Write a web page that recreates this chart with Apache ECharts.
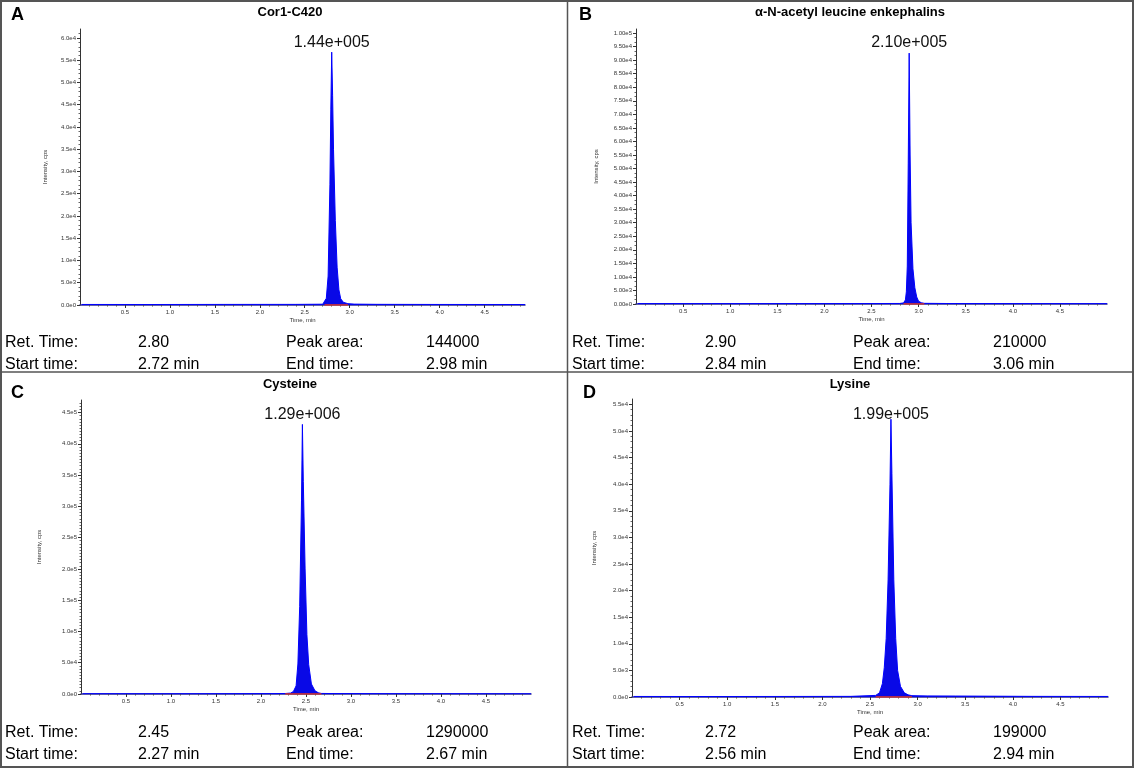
<!DOCTYPE html>
<html>
<head>
<meta charset="utf-8">
<script src="https://cdn.jsdelivr.net/npm/echarts@6/dist/echarts.min.js"></script>
<style>
  html, body { margin: 0; padding: 0; background: #fff; }
  #main { width: 1134px; height: 768px; }
</style>
</head>
<body>
<div id="main"></div>
<script>
// --- chromatogram data: time (min) / intensity (cps) ---
var timeA = [0.02, 0.8, 1.6, 2.4, 2.70, 2.72, 2.74, 2.76, 2.78, 2.79, 2.80, 2.81, 2.82, 2.84, 2.86, 2.88, 2.90, 2.93, 2.98, 3.05, 3.3, 4.0, 4.95];
var intA  = [120, 110, 130, 140, 180, 300, 1500, 6500, 27000, 44000, 56800, 47000, 35000, 19000, 8500, 3400, 1400, 600, 300, 200, 150, 120, 110];

var timeB = [0.02, 0.8, 1.6, 2.4, 2.80, 2.84, 2.86, 2.87, 2.88, 2.89, 2.90, 2.91, 2.92, 2.94, 2.96, 2.98, 3.00, 3.03, 3.06, 3.3, 4.0, 5.0];
var intB  = [150, 140, 150, 160, 200, 400, 1500, 4500, 14000, 52000, 92600, 55000, 30000, 13000, 6000, 2600, 1000, 450, 250, 180, 150, 140];

var timeC = [0.02, 0.8, 1.6, 2.1, 2.27, 2.33, 2.36, 2.39, 2.41, 2.43, 2.45, 2.46, 2.47, 2.49, 2.51, 2.53, 2.56, 2.60, 2.64, 2.67, 2.8, 3.5, 4.2, 5.0];
var intC  = [500, 400, 500, 600, 800, 1500, 4000, 13000, 48000, 140000, 310000, 431000, 340000, 200000, 95000, 47000, 16000, 5000, 1800, 900, 700, 500, 450, 400];

var timeD = [0.02, 0.8, 1.6, 2.3, 2.56, 2.60, 2.63, 2.65, 2.67, 2.69, 2.71, 2.72, 2.73, 2.75, 2.77, 2.79, 2.82, 2.86, 2.90, 2.94, 3.1, 3.4, 4.2, 5.0];
var intD  = [100, 90, 100, 120, 300, 800, 2500, 5500, 11000, 22000, 40000, 52200, 42000, 22000, 11000, 5000, 2000, 800, 400, 250, 200, 180, 120, 100];

// --- tick values ---
var xTicks  = [0.5, 1.0, 1.5, 2.0, 2.5, 3.0, 3.5, 4.0, 4.5];
var yTicksA = [0, 5000, 10000, 15000, 20000, 25000, 30000, 35000, 40000, 45000, 50000, 55000, 60000];
var yTicksB = [0, 5000, 10000, 15000, 20000, 25000, 30000, 35000, 40000, 45000, 50000, 55000, 60000, 65000, 70000, 75000, 80000, 85000, 90000, 95000, 100000];
var yTicksC = [0, 50000, 100000, 150000, 200000, 250000, 300000, 350000, 400000, 450000];
var yTicksD = [0, 5000, 10000, 15000, 20000, 25000, 30000, 35000, 40000, 45000, 50000, 55000];

// --- text of the panels ---
var letters     = ['A', 'B', 'C', 'D'];
var panelTitles = ['Cor1-C420', 'α-N-acetyl leucine enkephalins', 'Cysteine', 'Lysine'];
var peakLabels  = ['1.44e+005', '2.10e+005', '1.29e+006', '1.99e+005'];
var retTimes    = ['2.80', '2.90', '2.45', '2.72'];
var peakAreas   = ['144000', '210000', '1290000', '199000'];
var startTimes  = [2.72, 2.84, 2.27, 2.56];
var endTimes    = [2.98, 3.06, 2.67, 2.94];

var chart = echarts.init(document.getElementById('main'));

var panels = [
  { t: timeA, v: intA, yTicks: yTicksA, yMax: 62000,  yStep: 5000,  minor: 5, digits: 1, xMax: 4.95,
    grid: { left: 80,  top: 29,  width: 445, height: 276 }, nameGap: 32, labelDist: 1,
    ox: 0,   oy: 0,   titleX: 290, titleY: 12,  letterX: 11,  rowY: 343 },
  { t: timeB, v: intB, yTicks: yTicksB, yMax: 101500, yStep: 5000,  minor: 3, digits: 2, xMax: 5.0,
    grid: { left: 636, top: 29,  width: 471, height: 275 }, nameGap: 37, labelDist: 2,
    ox: 567, oy: 0,   titleX: 850, titleY: 12,  letterX: 579, rowY: 343 },
  { t: timeC, v: intC, yTicks: yTicksC, yMax: 470000, yStep: 50000, minor: 10, digits: 1, xMax: 5.0,
    grid: { left: 81,  top: 400, width: 450, height: 294 }, nameGap: 39, labelDist: 1,
    ox: 0,   oy: 372, titleX: 290, titleY: 384, letterX: 11,  rowY: 733 },
  { t: timeD, v: intD, yTicks: yTicksD, yMax: 56000,  yStep: 5000,  minor: 5, digits: 1, xMax: 5.0,
    grid: { left: 632, top: 399, width: 476, height: 298 }, nameGap: 35, labelDist: -4,
    ox: 567, oy: 372, titleX: 850, titleY: 384, letterX: 583, rowY: 733 }
];

var grids = [], xAxes = [], yAxes = [], series = [], graphics = [];
var tinyFont = { fontSize: 6, color: '#333', fontFamily: 'Liberation Sans' };

function txt(x, y, text, font, align) {
  return {
    type: 'text', x: x, y: y, z: 100,
    style: { text: text, font: font, fill: '#000', align: align || 'left', verticalAlign: 'middle',
             textAlign: align || 'left', textVerticalAlign: 'middle' }
  };
}

panels.forEach(function (p, i) {
  grids.push(p.grid);

  xAxes.push({
    type: 'value', gridIndex: i, min: 0, max: p.xMax, interval: 0.5,
    axisLine: { show: true, onZero: false, lineStyle: { color: '#2d2d8f', width: 1.5 } },
    axisTick: { show: true, customValues: xTicks, length: 3, lineStyle: { color: '#333' } },
    minorTick: { show: true, splitNumber: 5, length: 1.5, lineStyle: { color: '#555' } },
    axisLabel: Object.assign({ customValues: xTicks, margin: 4,
      formatter: function (val) { return val.toFixed(1); } }, tinyFont),
    splitLine: { show: false },
    name: 'Time, min', nameLocation: 'middle', nameGap: 12, nameTextStyle: tinyFont
  });

  yAxes.push({
    type: 'value', gridIndex: i, min: 0, max: p.yMax, interval: p.yStep,
    axisLine: { show: true, lineStyle: { color: '#333', width: 1 } },
    axisTick: { show: true, customValues: p.yTicks, length: 3, lineStyle: { color: '#333' } },
    minorTick: { show: true, splitNumber: p.minor, length: 1.5, lineStyle: { color: '#666' } },
    axisLabel: Object.assign({ customValues: p.yTicks, margin: 4,
      formatter: function (val) { return val.toExponential(p.digits).replace('+', ''); } }, tinyFont),
    splitLine: { show: false },
    name: 'Intensity, cps', nameLocation: 'middle', nameGap: p.nameGap, nameTextStyle: tinyFont
  });

  var pts = p.t.map(function (t, k) { return [t, p.v[k]]; });
  var apex = pts.reduce(function (a, b) { return b[1] > a[1] ? b : a; });

  series.push({
    type: 'line', xAxisIndex: i, yAxisIndex: i, data: pts,
    symbol: 'none', lineStyle: { color: '#0000ff', width: 1 },
    areaStyle: { color: '#0909e6', opacity: 1 },
    markPoint: {
      symbol: 'circle', symbolSize: 1, itemStyle: { color: 'rgba(0,0,0,0)' },
      label: { show: true, position: 'top', distance: p.labelDist, formatter: peakLabels[i],
               fontSize: 16, color: '#111', fontFamily: 'Liberation Sans' },
      data: [{ coord: apex }]
    }
  });

  // integration baseline
  series.push({
    type: 'line', xAxisIndex: i, yAxisIndex: i, z: 5,
    data: [[startTimes[i], 0], [endTimes[i], 0]],
    symbol: 'none', lineStyle: { color: '#e8341c', width: 1.3 }
  });

  var f = '16px "Liberation Sans"';
  graphics.push(txt(p.titleX, p.titleY, panelTitles[i], 'bold 13px "Liberation Sans"', 'center'));
  graphics.push(txt(p.letterX, p.oy + (i < 2 ? 15 : 21), letters[i], 'bold 18px "Liberation Sans"'));
  graphics.push(txt(p.ox + 5,   p.rowY, 'Ret. Time:', f));
  graphics.push(txt(p.ox + 138, p.rowY, retTimes[i], f));
  graphics.push(txt(p.ox + 286, p.rowY, 'Peak area:', f));
  graphics.push(txt(p.ox + 426, p.rowY, peakAreas[i], f));
  graphics.push(txt(p.ox + 5,   p.rowY + 22, 'Start time:', f));
  graphics.push(txt(p.ox + 138, p.rowY + 22, startTimes[i].toFixed(2) + ' min', f));
  graphics.push(txt(p.ox + 286, p.rowY + 22, 'End time:', f));
  graphics.push(txt(p.ox + 426, p.rowY + 22, endTimes[i].toFixed(2) + ' min', f));
});

// panel frames
graphics.push({ type: 'rect', z: 90, shape: { x: 1, y: 1, width: 1132, height: 766 },
  style: { fill: 'none', stroke: '#555', lineWidth: 2 } });
graphics.push({ type: 'line', z: 90, shape: { x1: 567.5, y1: 0, x2: 567.5, y2: 768 },
  style: { stroke: '#555', lineWidth: 1.5 } });
graphics.push({ type: 'line', z: 90, shape: { x1: 0, y1: 372, x2: 1134, y2: 372 },
  style: { stroke: '#555', lineWidth: 1.5 } });

chart.setOption({
  animation: false,
  backgroundColor: '#fff',
  grid: grids,
  xAxis: xAxes,
  yAxis: yAxes,
  series: series,
  graphic: graphics
});
</script>
</body>
</html>
